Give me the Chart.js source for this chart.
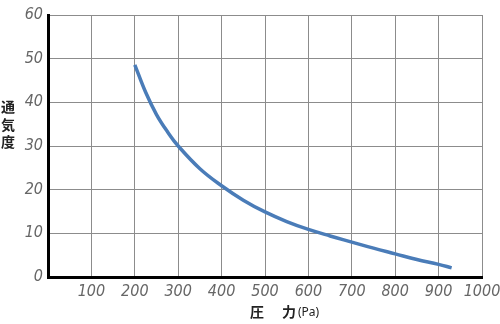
<!DOCTYPE html>
<html>
<head>
<meta charset="utf-8">
<script src="https://cdn.jsdelivr.net/npm/chart.js@4"></script>
<style>
  html, body { margin: 0; padding: 0; background: #fff; }
  #wrap { width: 500px; height: 324px; }
</style>
</head>
<body>
<div id="wrap"><canvas id="chart" width="500" height="324"></canvas></div>
<script>
// pressure (Pa) vs air permeability
const pressure = [200, 225, 250, 275, 300, 350, 400, 450, 500, 550, 600, 650, 700, 750, 800, 850, 900, 930];
const permeability = [48.6, 42.3, 37.2, 33.3, 30.0, 24.8, 20.9, 17.6, 14.9, 12.7, 10.9, 9.4, 8.0, 6.6, 5.3, 4.0, 2.9, 2.1];
const yTitle = ["通", "気", "度"];
const xTitle = ["圧", "力"];
const xUnit = "(Pa)";

const tickFont = { family: "'Liberation Sans Narrow', 'DejaVu Sans Condensed', sans-serif", size: 16, style: "italic" };

const axisTitles = {
  id: "axisTitles",
  afterDraw(chart) {
    const ctx = chart.ctx;
    ctx.save();
    ctx.fillStyle = "#222";
    ctx.textAlign = "center";
    ctx.textBaseline = "middle";
    ctx.font = "bold 14px 'Noto Sans CJK JP', sans-serif";
    yTitle.forEach((ch, i) => ctx.fillText(ch, 8, 107 + i * 17.5));
    xTitle.forEach((ch, i) => ctx.fillText(ch, 257 + i * 32, 312));
    ctx.textAlign = "left";
    ctx.font = "12px 'Noto Sans', sans-serif";
    ctx.fillText(xUnit, 298, 313);
    ctx.restore();
  }
};

new Chart(document.getElementById("chart"), {
  type: "line",
  data: {
    datasets: [{
      data: pressure.map((p, i) => ({ x: p, y: permeability[i] })),
      borderColor: "#4a7cb8",
      borderWidth: 3.5,
      pointRadius: 0,
      tension: 0.4,
      fill: false
    }]
  },
  options: {
    responsive: false,
    animation: false,
    layout: { padding: { top: 15, right: 18, left: 0, bottom: 0 } },
    plugins: { legend: { display: false }, tooltip: { enabled: false } },
    scales: {
      x: {
        type: "linear",
        min: 0,
        max: 1000,
        afterFit(scale) { scale.height = 47; scale.paddingRight = 0; },
        grid: { color: "#8c8c8c", lineWidth: 1, drawTicks: false },
        border: { color: "#000", width: 3 },
        ticks: {
          stepSize: 100,
          padding: 5,
          color: "#666",
          font: tickFont,
          maxRotation: 0,
          callback: (v) => (v === 0 ? "" : v)
        }
      },
      y: {
        min: 0,
        max: 60,
        afterFit(scale) { scale.width = 48; },
        grid: { color: "#8c8c8c", lineWidth: 1, drawTicks: false },
        border: { color: "#000", width: 3 },
        ticks: { stepSize: 10, padding: 5, color: "#666", font: tickFont }
      }
    }
  },
  plugins: [axisTitles]
});
</script>
</body>
</html>
